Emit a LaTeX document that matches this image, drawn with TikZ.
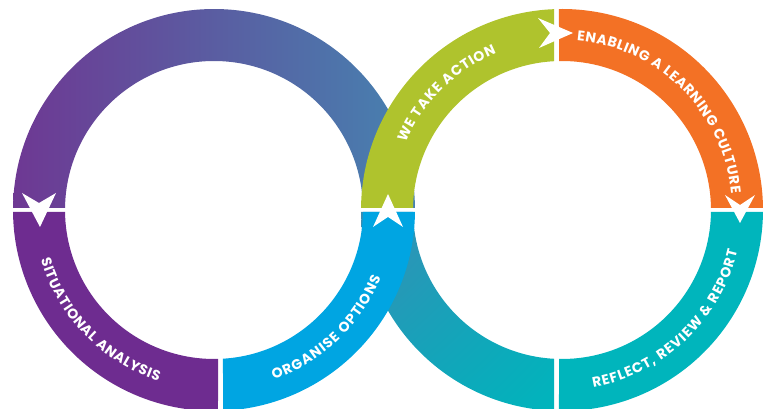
\documentclass[tikz,border=0pt]{standalone}
\usepackage{fontspec}
\setmainfont{Poppins}
\usetikzlibrary{calc,decorations.text,shadings}
\definecolor{cpurple}{HTML}{6E2C90}
\definecolor{cpurpleA}{HTML}{6E3893}
\definecolor{csteel}{HTML}{4682B0}
\definecolor{cblue}{HTML}{00A5E2}
\definecolor{cgreen}{HTML}{AFC32D}
\definecolor{corange}{HTML}{F37125}
\definecolor{cteal}{HTML}{00B5BC}
\definecolor{ctealA}{HTML}{3A8DB4}
\definecolor{ctealM}{HTML}{12A3BA}
\newcommand\txtfmt{\bfseries\fontsize{14}{16}\selectfont\color{white}}
\tikzset{
  arrowhead/.style={fill=white},
  curvedtext/.style={decorate,decoration={text along path, text align=fit to path, text={|\txtfmt|#1}}}
}
\begin{document}
\begin{tikzpicture}[x=1pt,y=1pt]
\useasboundingbox (0,0) rectangle (771,409);
\clip (0,0) rectangle (771,409);
\coordinate (L) at (214,199);
\coordinate (R) at (562,199);
% left ring, upper half (gradient)
\shade[left color=cpurpleA, right color=csteel]
  ($(L)+(0.57:201)$) arc[start angle=0.57,end angle=179.43,radius=201]
  -- ($(L)+(179.23:149)$) arc[start angle=179.23,end angle=0.77,radius=149] -- cycle;
% right ring, lower left (gradient)
\shade[upper left=ctealA, upper right=ctealM, lower left=ctealM, lower right=cteal]
  ($(R)+(180.57:201)$) arc[start angle=180.57,end angle=267.72,radius=201]
  -- ($(R)+(266.92:149)$) arc[start angle=266.92,end angle=180.77,radius=149] -- cycle;
% left ring, lower left
\fill[cpurple]
  ($(L)+(180.57:201)$) arc[start angle=180.57,end angle=271.14,radius=201]
  -- ($(L)+(271.54:149)$) arc[start angle=271.54,end angle=180.77,radius=149] -- cycle;
% right ring, upper right
\fill[corange]
  ($(R)+(0.57:201)$) arc[start angle=0.57,end angle=90.86,radius=201]
  -- ($(R)+(91.15:149)$) arc[start angle=91.15,end angle=0.77,radius=149] -- cycle;
% right ring, lower right
\fill[cteal]
  ($(R)+(269.14:201)$) arc[start angle=269.14,end angle=359.43,radius=201]
  -- ($(R)+(359.23:149)$) arc[start angle=359.23,end angle=268.85,radius=149] -- cycle;
% right ring, upper left (over left ring)
\fill[cgreen]
  ($(R)+(92.28:201)$) arc[start angle=92.28,end angle=179.43,radius=201]
  -- ($(R)+(179.23:149)$) arc[start angle=179.23,end angle=93.08,radius=149] -- cycle;
% left ring, lower right (over right ring)
\fill[cblue]
  ($(L)+(272.57:201)$) arc[start angle=272.57,end angle=359.43,radius=201]
  -- ($(L)+(359.23:149)$) arc[start angle=359.23,end angle=273.46,radius=149] -- cycle;
% arrowheads
\fill[arrowhead] (22,216) -- (39,206) -- (56,216) -- (40,182) -- cycle;
\fill[arrowhead] (388,215) -- (403,182) -- (388,192) -- (373,182) -- cycle;
\fill[arrowhead] (573,376) -- (538,391) -- (550,376) -- (539,361) -- cycle;
\fill[arrowhead] (725,214) -- (740,204) -- (755,214) -- (740,186) -- cycle;
% labels
\path[curvedtext={SITUATIONAL ANALYSIS}]
  ($(L)+(196:180)$) arc[start angle=196,end angle=252,radius=180];
\path[curvedtext={ORGANISE OPTIONS}]
  ($(L)+(289.4:180)$) arc[start angle=289.4,end angle=338,radius=180];
\path[curvedtext={WE TAKE ACTION}]
  ($(R)+(156.8:170)$) arc[start angle=156.8,end angle=112.7,radius=170];
\path[curvedtext={ENABLING A LEARNING CULTURE}]
  ($(R)+(85:170)$) arc[start angle=85,end angle=5.6,radius=170];
\path[curvedtext={REFLECT, REVIEW {\&} REPORT}]
  ($(R)+(280:180)$) arc[start angle=280,end angle=347,radius=180];
\end{tikzpicture}
\end{document}
